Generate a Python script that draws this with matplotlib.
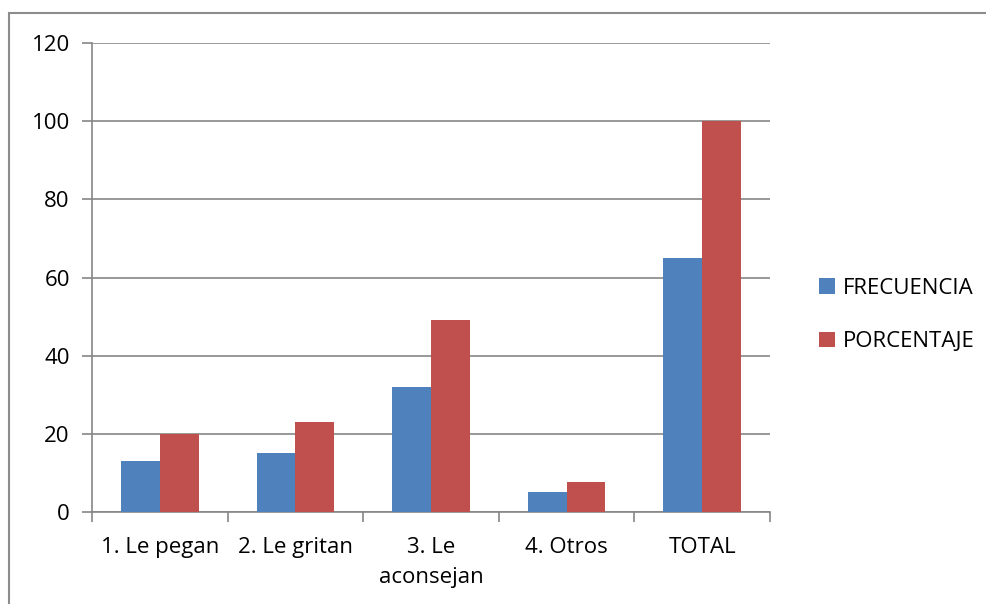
import numpy as np
import matplotlib.pyplot as plt
from matplotlib.patches import Rectangle

# Chart data
categories = ['1. Le pegan', '2. Le gritan', '3. Le\naconsejan', '4. Otros', 'TOTAL']
frecuencia = [13, 15, 32, 5, 65]
porcentaje = [20, 23.08, 49.23, 7.69, 100]

plt.rcParams['font.family'] = ['Open Sans', 'DejaVu Sans']

fig = plt.figure(figsize=(9.87, 6.04), dpi=100)
ax = fig.add_axes([92 / 987, 1 - 512 / 604, (770 - 92) / 987, (512 - 43) / 604])

# outer chart frame
fig.patches.append(Rectangle((9 / 987, -0.05), 1.2, 1 - 13 / 604 + 0.05,
                             transform=fig.transFigure, fill=False,
                             edgecolor='#8c8c8c', linewidth=1.5))

x = np.arange(len(categories))
w = 0.286
ax.bar(x - w / 2, frecuencia, w, color='#4f81bd', label='FRECUENCIA', zorder=3)
ax.bar(x + w / 2, porcentaje, w, color='#c0504d', label='PORCENTAJE', zorder=3)

ax.set_xlim(-0.5, len(categories) - 0.5)
ax.set_ylim(0, 120)
ax.set_yticks(range(0, 121, 20))
ax.yaxis.grid(True, color='#868686', linewidth=1.2, zorder=0)

# category labels between boundary ticks
ax.set_xticks(np.arange(-0.5, len(categories), 1))
ax.set_xticklabels([])
ax.set_xticks(x, minor=True)
ax.set_xticklabels(categories, minor=True, fontsize=16, linespacing=1.55)
ax.tick_params(axis='x', which='minor', length=0, pad=18)
ax.tick_params(axis='x', which='major', length=7, color='#868686', width=1.2)
ax.tick_params(axis='y', length=7, color='#868686', width=1.2, labelsize=16, pad=9)

for side in ['top', 'right']:
    ax.spines[side].set_visible(False)
for side in ['left', 'bottom']:
    ax.spines[side].set_color('#868686')
    ax.spines[side].set_linewidth(1.2)

ax.legend(loc='center left', bbox_to_anchor=(808 / 987, 1 - 315 / 604),
          bbox_transform=fig.transFigure, frameon=False,
          fontsize=16, handlelength=0.7, handleheight=0.7,
          handletextpad=0.35, labelspacing=1.45, borderpad=0)

fig.savefig('out.png', dpi=100)
